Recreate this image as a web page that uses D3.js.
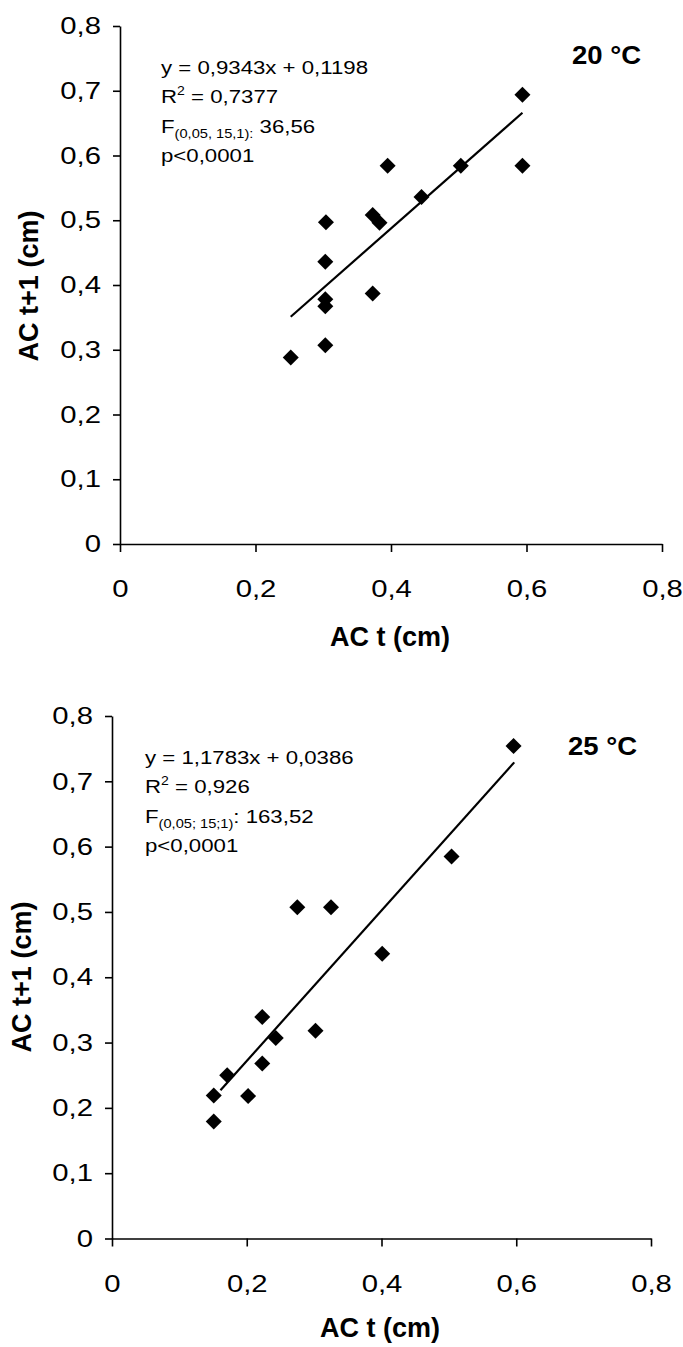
<!DOCTYPE html>
<html>
<head>
<meta charset="utf-8">
<script src="https://cdn.jsdelivr.net/npm/d3@7"></script>
<style>
  body { margin: 0; background: #fff; }
  svg { display: block; }
  text { font-family: "Liberation Sans", Arial, sans-serif; fill: #000; }
</style>
</head>
<body>
<svg id="chart"></svg>
<script>
// axis ticks (shared by both panels)
const xTicks = [0, 0.2, 0.4, 0.6, 0.8];
const xTickLabels = ["0", "0,2", "0,4", "0,6", "0,8"];
const yTicks = [0, 0.1, 0.2, 0.3, 0.4, 0.5, 0.6, 0.7, 0.8];
const yTickLabels = ["0", "0,1", "0,2", "0,3", "0,4", "0,5", "0,6", "0,7", "0,8"];

// 20 °C : AC t vs AC t+1
const ac20t  = [0.252, 0.303, 0.303, 0.303, 0.303, 0.304, 0.373, 0.373, 0.383, 0.395, 0.445, 0.503, 0.594, 0.594];
const ac20t1 = [0.288, 0.307, 0.367, 0.378, 0.436, 0.497, 0.387, 0.508, 0.496, 0.584, 0.536, 0.584, 0.584, 0.694];
const fit20 = [[0.252, 0.351], [0.594, 0.666]];
const stats20 = ["y = 0,9343x + 0,1198", "0,7377", "(0,05, 15,1):", " 36,56", "p<0,0001"];

// 25 °C : AC t vs AC t+1
const ac25t  = [0.151, 0.151, 0.171, 0.202, 0.223, 0.223, 0.243, 0.275, 0.302, 0.325, 0.401, 0.504, 0.596];
const ac25t1 = [0.179, 0.219, 0.250, 0.218, 0.268, 0.339, 0.307, 0.507, 0.318, 0.507, 0.436, 0.585, 0.754];
const fit25 = [[0.161, 0.227], [0.597, 0.729]];
const stats25 = ["y = 1,1783x + 0,0386", "0,926", "(0,05; 15;1)", ": 163,52", "p<0,0001"];

const W = 683, H = 1347;
const svg = d3.select("#chart").attr("width", W).attr("height", H);
svg.append("rect").attr("width", W).attr("height", H).attr("fill", "#fff");

const panels = [
  { temp: "20 °C", xs: ac20t, ys: ac20t1, fit: fit20, stats: stats20,
    left: 120, right: 662, bottom: 544, top: 26,
    statX: 161, statY: 74, tempX: 572, tempY: 64,
    yTitleX: 29, yTitleY: 286, xTitleX: 390, xTitleY: 646 },
  { temp: "25 °C", xs: ac25t, ys: ac25t1, fit: fit25, stats: stats25,
    left: 112, right: 651, bottom: 1238.5, top: 716,
    statX: 145, statY: 764, tempX: 568, tempY: 755,
    yTitleX: 22, yTitleY: 977, xTitleX: 380, xTitleY: 1337 }
];

const sx = 1.22;     // the printed digits are wider than Arial
const tickFont = 24;

panels.forEach(p => {
  const x = d3.scaleLinear().domain([0, 0.8]).range([p.left, p.right]);
  const y = d3.scaleLinear().domain([0, 0.8]).range([p.bottom, p.top]);
  const g = svg.append("g");

  // y axis
  const yAxis = g.append("g")
    .attr("transform", `translate(${p.left},0)`)
    .call(d3.axisLeft(y).tickValues(yTicks).tickFormat((d, i) => yTickLabels[i])
      .tickSize(7).tickSizeOuter(0));
  yAxis.selectAll("text")
    .attr("x", -19 / sx)
    .attr("transform", `scale(${sx},1)`)
    .style("font-size", tickFont + "px");

  // x axis
  const xAxis = g.append("g")
    .attr("transform", `translate(0,${p.bottom})`)
    .call(d3.axisBottom(x).tickValues(xTicks).tickFormat((d, i) => xTickLabels[i])
      .tickSize(8).tickSizeOuter(0).tickPadding(28));
  xAxis.selectAll("text")
    .attr("transform", `scale(${sx},1)`)
    .style("font-size", tickFont + "px");

  g.selectAll(".domain, .tick line").attr("stroke", "#000").attr("stroke-width", 1.6);

  // regression line
  g.append("line")
    .attr("x1", x(p.fit[0][0])).attr("y1", y(p.fit[0][1]))
    .attr("x2", x(p.fit[1][0])).attr("y2", y(p.fit[1][1]))
    .attr("stroke", "#000").attr("stroke-width", 2.2);

  // diamonds
  g.selectAll(".pt")
    .data(p.xs.map((v, i) => [v, p.ys[i]]))
    .enter().append("path")
    .attr("class", "pt")
    .attr("d", "M0,-8L8,0L0,8L-8,0Z")
    .attr("transform", d => `translate(${x(d[0])},${y(d[1])})`)
    .attr("fill", "#000");

  // regression statistics
  const lh = 29.5;
  const st = g.append("g")
    .attr("transform", `translate(${p.statX},${p.statY}) scale(1.17,1)`)
    .style("font-size", "19px");
  st.append("text").text(p.stats[0]);
  const r2 = st.append("text").attr("y", lh);
  r2.append("tspan").text("R");
  r2.append("tspan").attr("dy", -8).style("font-size", "12px").text("2");
  r2.append("tspan").attr("dy", 8).text(" = " + p.stats[1]);
  const f = st.append("text").attr("y", lh * 2);
  f.append("tspan").text("F");
  f.append("tspan").attr("dy", 5).style("font-size", "12.5px").text(p.stats[2]);
  f.append("tspan").attr("dy", -5).text(p.stats[3]);
  st.append("text").attr("y", lh * 3).text(p.stats[4]);

  // temperature label
  g.append("text")
    .attr("transform", `translate(${p.tempX},${p.tempY}) scale(1.1,1)`)
    .style("font-size", "25px").style("font-weight", "bold")
    .text(p.temp);

  // axis titles
  g.append("text")
    .attr("transform", `translate(${p.yTitleX},${p.yTitleY}) rotate(-90)`)
    .attr("text-anchor", "middle").attr("dy", "0.35em")
    .style("font-size", "27px").style("font-weight", "bold")
    .text("AC t+1 (cm)");
  g.append("text")
    .attr("x", p.xTitleX).attr("y", p.xTitleY)
    .attr("text-anchor", "middle")
    .style("font-size", "27px").style("font-weight", "bold")
    .text("AC t (cm)");
});
</script>
</body>
</html>
